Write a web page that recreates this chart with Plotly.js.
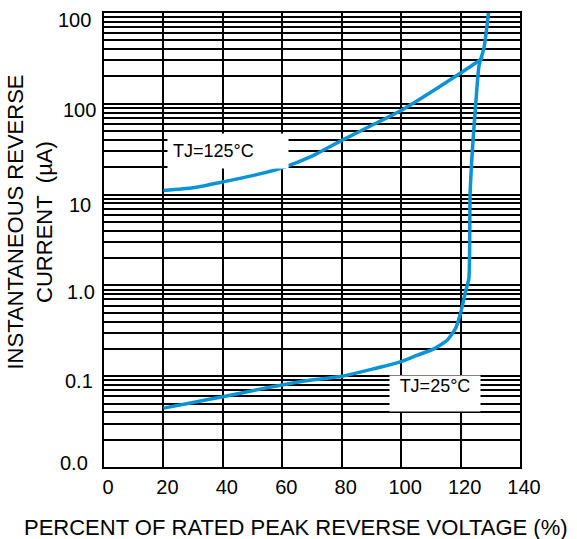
<!DOCTYPE html>
<html>
<head>
<meta charset="utf-8">
<script src="https://cdn.plot.ly/plotly-3.0.1.min.js"></script>
<style>html,body{margin:0;padding:0;background:#fff;}#chart{width:577px;height:539px;}</style>
</head>
<body>
<div id="chart"></div>
<script>
// ---- data ----
const voltage25 = [20, 30, 40, 52.5, 66, 80, 90, 100, 105, 111, 115.5, 118.3, 120.1, 121.7, 122.8, 123.2, 124, 125.1, 126.2, 127.9, 129.6];
const current25 = [0.0445, 0.0514, 0.0594, 0.072, 0.087, 0.1, 0.119, 0.145, 0.168, 0.2, 0.249, 0.336, 0.51, 0.857, 1.19, 10, 31.9, 100, 262, 415, 1150];
const voltage125 = [20, 30, 40, 50, 60, 70, 80, 90, 100, 110, 120, 126.8, 127.3];
const current125 = [11.1, 11.9, 13.8, 16.2, 19.7, 26.5, 39.5, 57.7, 84.4, 134, 218, 309, 330];

const xTickVals = [0, 20, 40, 60, 80, 100, 120, 140];
const xTickText = ['0', '20', '40', '60', '80', '100', '120', '140'];
const yDecadeVals = [0.01, 0.1, 1, 10, 100, 1000];
const yDecadeText = ['0.0', '0.1', '1.0', '10', '100', '100'];

const label25 = 'TJ=25°C';
const label125 = 'TJ=125°C';

// ---- styling / placement (pixel offsets of the printed y labels) ----
const yLabelDown = [-4, 5, 6.5, 10, 6, 7];
const yLabelRight = [90, 95, 97, 93, 98, 93];

// gridline values: 1..9 in every decade
const yGridVals = [];
for (let e = -2; e <= 2; e++) {
  for (let m = 1; m <= 9; m++) yGridVals.push(+(m * Math.pow(10, e)).toPrecision(3));
}
yGridVals.push(1000);

const lineColor = '#0a93d5';
const FONT = 'Liberation Sans, Arial, Helvetica, sans-serif';
const L = 104;

const traces = [
  { x: voltage25, y: current25, mode: 'lines', line: { color: lineColor, width: 3.5, shape: 'spline', smoothing: 0.5 }, hoverinfo: 'skip', showlegend: false },
  { x: voltage125, y: current125, mode: 'lines', line: { color: lineColor, width: 3.5, shape: 'spline', smoothing: 0.5 }, hoverinfo: 'skip', showlegend: false }
];

const annotations = [
  { text: label125, x: 21.05, y: Math.log10(47.9), xref: 'x', yref: 'y', xanchor: 'left', yanchor: 'top',
    showarrow: false, bgcolor: '#fff', borderpad: 5, width: 110, height: 24, align: 'left', valign: 'middle',
    font: { family: FONT, size: 18, color: '#000' } },
  { text: label25, x: 95.8, y: Math.log10(0.1031), xref: 'x', yref: 'y', xanchor: 'left', yanchor: 'top',
    showarrow: false, bgcolor: '#fff', borderpad: 0, width: 90, height: 35, align: 'center', valign: 'top',
    font: { family: FONT, size: 18, color: '#000' } },
  { text: 'INSTANTANEOUS REVERSE<br>CURRENT\u00a0 (µA)', textangle: -90, xref: 'paper', yref: 'paper',
    x: -0.1767, y: 0.5396, xanchor: 'center', yanchor: 'middle', showarrow: false,
    font: { family: FONT, size: 22, color: '#000' } },
  { text: 'PERCENT OF RATED PEAK REVERSE VOLTAGE (%)', xref: 'paper', yref: 'paper',
    x: 0.4615, y: -0.1322, xanchor: 'center', yanchor: 'middle', showarrow: false,
    font: { family: FONT, size: 22, color: '#000' } }
];
// y-axis decade labels, placed on the axis' own log scale
yDecadeVals.forEach((v, i) => {
  annotations.push({
    text: yDecadeText[i], xref: 'paper', yref: 'y', x: 0, y: Math.log10(v),
    xanchor: 'right', yanchor: 'middle', xshift: yLabelRight[i] - L, yshift: -yLabelDown[i],
    showarrow: false, font: { family: FONT, size: 20, color: '#000' }
  });
});

const layout = {
  width: 577, height: 539,
  margin: { l: L, r: 57, t: 13, b: 72, pad: 0 },
  paper_bgcolor: '#fff', plot_bgcolor: '#fff',
  font: { family: FONT, color: '#000', size: 20 },
  showlegend: false,
  xaxis: {
    range: [0, 140], tickmode: 'array', tickvals: xTickVals, ticktext: xTickText,
    showgrid: true, gridcolor: '#000', gridwidth: 2, zeroline: false,
    showline: true, mirror: true, linecolor: '#000', linewidth: 2,
    ticks: '', ticklabelstandoff: 1, ticklabelshift: 4,
    tickfont: { family: FONT, size: 20, color: '#000' }, fixedrange: true
  },
  yaxis: {
    type: 'log', range: [-2, 3], tickmode: 'array', tickvals: yGridVals,
    showticklabels: false,
    showgrid: true, gridcolor: '#000', gridwidth: 2, zeroline: false,
    showline: true, mirror: true, linecolor: '#000', linewidth: 2,
    ticks: '', fixedrange: true
  },
  annotations: annotations
};

Plotly.newPlot('chart', traces, layout, { staticPlot: true, displayModeBar: false });
</script>
</body>
</html>
